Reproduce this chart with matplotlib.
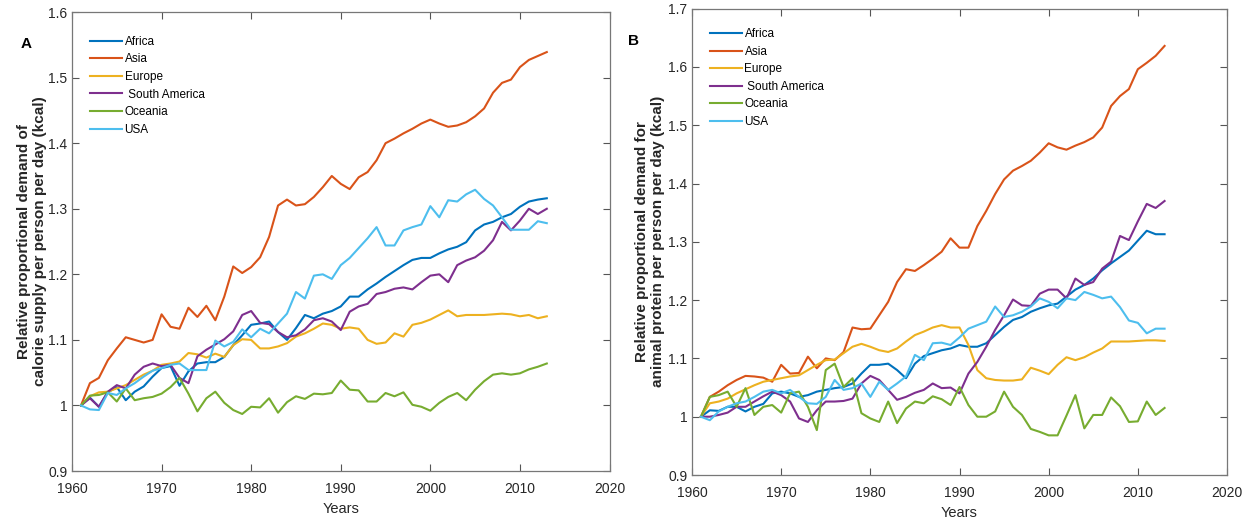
import matplotlib.pyplot as plt
from matplotlib.ticker import FuncFormatter

years = list(range(1961, 2014))
regions = ['Africa', 'Asia', 'Europe', ' South America', 'Oceania', 'USA']
colors = ['#0072BD', '#D95319', '#EDB120', '#7E2F8E', '#77AC30', '#4DBEEE']

# panel A: calorie supply
cal_africa = [1.0, 1.012, 0.998, 1.02, 1.028, 1.008, 1.021, 1.029, 1.044, 1.057,
              1.06, 1.03, 1.052, 1.064, 1.066, 1.066, 1.074, 1.092, 1.107, 1.123,
              1.125, 1.128, 1.112, 1.1, 1.118, 1.138, 1.133, 1.14, 1.144, 1.151,
              1.166, 1.166, 1.177, 1.186, 1.196, 1.205, 1.214, 1.222, 1.225, 1.225,
              1.232, 1.238, 1.242, 1.249, 1.267, 1.276, 1.28, 1.287, 1.292, 1.303,
              1.311, 1.314, 1.316]
cal_asia = [1.0, 1.034, 1.042, 1.069, 1.087, 1.104, 1.1, 1.096, 1.1, 1.139,
            1.12, 1.117, 1.149, 1.135, 1.152, 1.13, 1.166, 1.212, 1.202, 1.211,
            1.226, 1.257, 1.305, 1.314, 1.305, 1.307, 1.318, 1.333, 1.35, 1.338,
            1.33, 1.348, 1.356, 1.374, 1.4, 1.407, 1.415, 1.422, 1.43, 1.436,
            1.43, 1.425, 1.427, 1.432, 1.441, 1.453, 1.477, 1.492, 1.497, 1.516,
            1.527, 1.533, 1.539]
cal_europe = [1.0, 1.014, 1.02, 1.021, 1.026, 1.031, 1.039, 1.047, 1.053, 1.062,
              1.064, 1.067, 1.08, 1.078, 1.073, 1.079, 1.074, 1.092, 1.101, 1.1,
              1.087, 1.087, 1.09, 1.095, 1.105, 1.11, 1.117, 1.125, 1.123, 1.117,
              1.119, 1.117, 1.1, 1.094, 1.096, 1.11, 1.105, 1.123, 1.126, 1.131,
              1.138, 1.145, 1.136, 1.138, 1.138, 1.138, 1.139, 1.14, 1.139, 1.136,
              1.138, 1.133, 1.136]
cal_samerica = [1.0, 1.011, 0.998, 1.021, 1.031, 1.026, 1.047, 1.059, 1.064, 1.06,
                1.062, 1.042, 1.034, 1.075, 1.085, 1.093, 1.101, 1.113, 1.138, 1.144,
                1.126, 1.124, 1.112, 1.104, 1.107, 1.116, 1.13, 1.133, 1.128, 1.115,
                1.143, 1.151, 1.155, 1.17, 1.173, 1.178, 1.18, 1.177, 1.188, 1.198,
                1.2, 1.188, 1.214, 1.221, 1.226, 1.236, 1.252, 1.28, 1.267, 1.282,
                1.3, 1.292, 1.3]
cal_oceania = [1.0, 1.015, 1.016, 1.02, 1.006, 1.026, 1.008, 1.011, 1.013, 1.018,
               1.028, 1.042, 1.018, 0.991, 1.011, 1.021, 1.004, 0.993, 0.987, 0.998,
               0.997, 1.011, 0.989, 1.005, 1.014, 1.01, 1.018, 1.017, 1.019, 1.038,
               1.024, 1.023, 1.006, 1.006, 1.019, 1.014, 1.02, 1.001, 0.998, 0.992,
               1.004, 1.013, 1.019, 1.008, 1.024, 1.037, 1.047, 1.049, 1.047, 1.049,
               1.055, 1.059, 1.064]
cal_usa = [1.0, 0.994, 0.993, 1.019, 1.016, 1.026, 1.034, 1.044, 1.053, 1.057,
           1.062, 1.064, 1.054, 1.054, 1.054, 1.099, 1.09, 1.097, 1.116, 1.104,
           1.117, 1.11, 1.125, 1.14, 1.173, 1.163, 1.198, 1.2, 1.193, 1.214,
           1.225, 1.24, 1.255, 1.272, 1.244, 1.244, 1.267, 1.272, 1.276, 1.304,
           1.287, 1.313, 1.311, 1.322, 1.329, 1.315, 1.305, 1.287, 1.268, 1.268,
           1.268, 1.281, 1.278]

# panel B: animal protein
pro_africa = [1.0, 1.011, 1.01, 1.017, 1.017, 1.009, 1.017, 1.022, 1.04, 1.043,
              1.04, 1.034, 1.037, 1.043, 1.046, 1.049, 1.051, 1.057, 1.074, 1.089,
              1.089, 1.091, 1.08, 1.066, 1.091, 1.104, 1.109, 1.114, 1.117, 1.123,
              1.12, 1.12, 1.126, 1.14, 1.154, 1.166, 1.171, 1.18, 1.186, 1.191,
              1.194, 1.206, 1.218, 1.226, 1.237, 1.251, 1.263, 1.274, 1.285, 1.302,
              1.319, 1.313, 1.313]
pro_asia = [1.0, 1.034, 1.043, 1.054, 1.063, 1.07, 1.069, 1.067, 1.06, 1.089,
            1.074, 1.075, 1.103, 1.083, 1.1, 1.097, 1.111, 1.153, 1.15, 1.151,
            1.174, 1.197, 1.231, 1.253, 1.25, 1.26, 1.271, 1.283, 1.306, 1.29,
            1.29, 1.327, 1.353, 1.382, 1.407, 1.422, 1.43, 1.439, 1.453, 1.469,
            1.462, 1.458, 1.465, 1.471, 1.479, 1.496, 1.533, 1.55, 1.562, 1.596,
            1.607, 1.619, 1.636]
pro_europe = [1.0, 1.023, 1.026, 1.031, 1.04, 1.047, 1.054, 1.06, 1.063, 1.066,
              1.069, 1.071, 1.08, 1.089, 1.097, 1.098, 1.109, 1.12, 1.125, 1.12,
              1.114, 1.111, 1.117, 1.129, 1.14, 1.146, 1.153, 1.157, 1.153, 1.153,
              1.123, 1.08, 1.066, 1.063, 1.062, 1.062, 1.064, 1.084, 1.079, 1.073,
              1.089, 1.102, 1.097, 1.102, 1.11, 1.117, 1.129, 1.129, 1.129, 1.13,
              1.131, 1.131, 1.13]
pro_samerica = [1.0, 1.0, 1.003, 1.007, 1.017, 1.017, 1.026, 1.035, 1.043, 1.037,
                1.026, 0.997, 0.991, 1.011, 1.026, 1.026, 1.027, 1.031, 1.057, 1.07,
                1.063, 1.046, 1.029, 1.034, 1.041, 1.046, 1.057, 1.049, 1.05, 1.04,
                1.074, 1.094, 1.12, 1.149, 1.174, 1.201, 1.191, 1.19, 1.211, 1.218,
                1.218, 1.203, 1.237, 1.226, 1.231, 1.254, 1.266, 1.31, 1.303, 1.335,
                1.365, 1.358, 1.37]
pro_oceania = [1.0, 1.034, 1.037, 1.043, 1.017, 1.049, 1.003, 1.017, 1.02, 1.007,
               1.04, 1.043, 1.017, 0.977, 1.08, 1.091, 1.051, 1.066, 1.006, 0.997,
               0.991, 1.026, 0.989, 1.014, 1.026, 1.023, 1.035, 1.03, 1.02, 1.051,
               1.02, 1.0, 1.0, 1.009, 1.043, 1.017, 1.003, 0.979, 0.974, 0.968,
               0.968, 1.002, 1.037, 0.98, 1.003, 1.003, 1.033, 1.018, 0.991, 0.992,
               1.026, 1.003, 1.015]
pro_usa = [1.0, 0.994, 1.009, 1.017, 1.023, 1.026, 1.034, 1.043, 1.046, 1.04,
           1.046, 1.034, 1.023, 1.022, 1.034, 1.063, 1.046, 1.049, 1.057, 1.034,
           1.06, 1.046, 1.057, 1.069, 1.106, 1.097, 1.126, 1.127, 1.123, 1.136,
           1.151, 1.157, 1.163, 1.189, 1.171, 1.174, 1.18, 1.189, 1.203, 1.197,
           1.186, 1.203, 1.2, 1.214, 1.209, 1.203, 1.206, 1.188, 1.165, 1.161,
           1.143, 1.151, 1.151]

plt.rcParams['font.family'] = ['Liberation Sans', 'DejaVu Sans']

fig = plt.figure(figsize=(12.5, 5.18), dpi=100)
axA = fig.add_axes([0.0576, 0.0907, 0.430, 0.886])
axB = fig.add_axes([0.5536, 0.083, 0.4280, 0.9004])

panels = [
    (axA, [cal_africa, cal_asia, cal_europe, cal_samerica, cal_oceania, cal_usa],
     (0.9, 1.6), 'Relative proportional demand of\ncalorie supply per person per day (kcal)',
     'A', -0.046, 0.948, -0.085),
    (axB, [pro_africa, pro_asia, pro_europe, pro_samerica, pro_oceania, pro_usa],
     (0.9, 1.7), 'Relative proportional demand for\nanimal protein per person per day (kcal)',
     'B', -0.05, 0.958, -0.11),
]

for ax, series, ylim, ylabel, tag, lab_x, leg_y, tag_x in panels:
    for vals, name, c in zip(series, regions, colors):
        ax.plot(years, vals, color=c, lw=1.5, label=name)
    ax.set_xlim(1960, 2020)
    ax.set_ylim(*ylim)
    ax.set_xticks(range(1960, 2021, 10))
    n = int(round((ylim[1] - ylim[0]) / 0.1))
    ax.set_yticks([round(ylim[0] + 0.1 * i, 1) for i in range(n + 1)])
    ax.yaxis.set_major_formatter(FuncFormatter(lambda v, p: '%g' % round(v, 1)))
    ax.tick_params(direction='in', length=5, width=0.8, colors='#555555', labelcolor='#262626',
                   labelsize=10, top=True, right=True)
    ax.tick_params(axis='x', pad=8)
    for s in ax.spines.values():
        s.set_color('#777777')
        s.set_linewidth(0.9)
    ax.set_xlabel('Years', fontsize=10.5, color='#262626', labelpad=4)
    ax.set_ylabel(ylabel, fontsize=11, fontweight='bold', color='#262626')
    ax.yaxis.set_label_coords(lab_x, 0.5)
    ax.legend(loc='upper left', bbox_to_anchor=(0.033, leg_y), frameon=False,
              fontsize=8.5, borderpad=0, borderaxespad=0, labelspacing=0.47,
              handlelength=2.7, handletextpad=0.25)
    ax.text(tag_x, 0.93, tag, transform=ax.transAxes,
            fontsize=11, fontweight='bold', ha='center', va='center')

fig.savefig('out.png', dpi=100)
